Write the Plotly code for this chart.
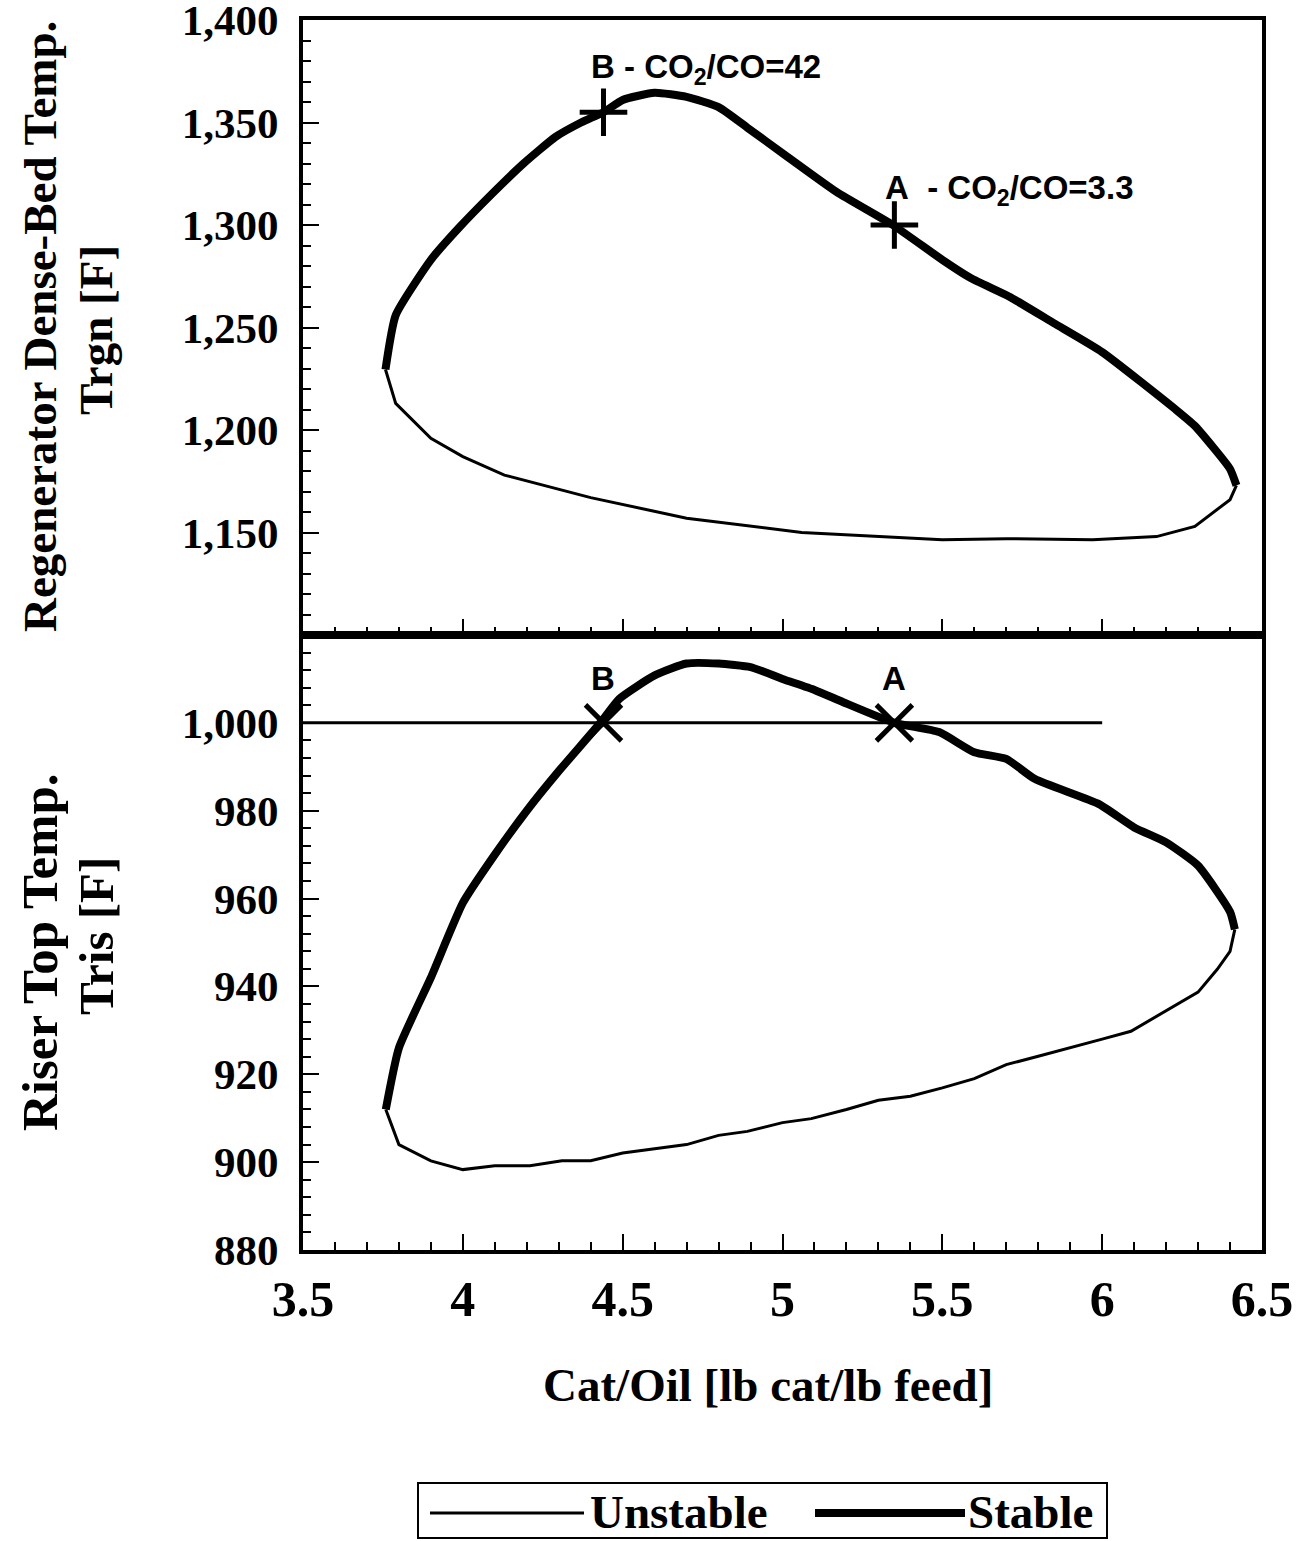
import plotly.graph_objects as go
from plotly.subplots import make_subplots

# ---------------- data ----------------
# Regenerator dense-bed temperature (top panel)
trgn_stable_x = [3.758, 3.79, 3.90, 3.99, 4.09, 4.19, 4.29, 4.37, 4.44, 4.50, 4.60, 4.70,
                 4.80, 4.89, 5.00, 5.17, 5.345, 5.50, 5.59, 5.71, 5.85, 6.00, 6.23, 6.29,
                 6.40, 6.42]
trgn_stable_y = [1229.5, 1256, 1283, 1299, 1315, 1330, 1343, 1350, 1355, 1361, 1364.5, 1362.5,
                 1357.5, 1347.5, 1335, 1316, 1300, 1283, 1274, 1265, 1252, 1238, 1210, 1202,
                 1181, 1173]
trgn_unstable_x = [3.758, 3.79, 3.90, 4.00, 4.13, 4.40, 4.70, 4.80, 5.06, 5.50, 5.70, 5.97,
                   6.17, 6.29, 6.40, 6.42]
trgn_unstable_y = [1229.5, 1213, 1196, 1187, 1178, 1167, 1157, 1155, 1150, 1146.5, 1147, 1146.5,
                   1148, 1153, 1166, 1173]

# Riser top temperature (bottom panel)
tris_stable_x = [3.759, 3.80, 3.90, 4.00, 4.10, 4.20, 4.30, 4.43, 4.49, 4.60, 4.70, 4.80,
                 4.90, 5.00, 5.10, 5.19, 5.35, 5.49, 5.60, 5.70, 5.79, 5.99, 6.10, 6.20,
                 6.30, 6.40, 6.415]
tris_stable_y = [912, 926, 942, 959, 970, 980, 989, 1000, 1005.5, 1010.8, 1013.5, 1013.5,
                 1012.7, 1010, 1007.5, 1004.7, 1000, 997.9, 993.3, 991.8, 987.2, 981.5, 976.2, 972.8,
                 967.5, 957, 953]
tris_unstable_x = [3.759, 3.80, 3.90, 4.00, 4.10, 4.21, 4.31, 4.40, 4.50, 4.60, 4.70, 4.80,
                   4.89, 5.00, 5.09, 5.20, 5.30, 5.40, 5.50, 5.60, 5.70, 5.80, 5.90, 6.00,
                   6.09, 6.20, 6.30, 6.36, 6.40, 6.415]
tris_unstable_y = [912, 904, 900.3, 898.3, 899.2, 899.2, 900.3, 900.3, 902.1, 903, 904, 906.1,
                   907, 909, 909.9, 912, 914.1, 915, 916.9, 919, 922.2, 924.1, 926, 928,
                   929.8, 934.4, 938.7, 943.9, 948, 953]

# Riser temperature set-point line
setpoint_x = [3.5, 6.0]
setpoint_y = [1000, 1000]

# Operating points A and B
point_names = ["A", "B"]
point_x = [5.35, 4.44]
point_trgn = [1300, 1355]
point_tris = [1000, 1000]
point_co2_co = ["3.3", "42"]

# axis ticks
x_ticks = [3.5, 4, 4.5, 5, 5.5, 6, 6.5]
trgn_ticks = [1150, 1200, 1250, 1300, 1350, 1400]
tris_ticks = [880, 900, 920, 940, 960, 980, 1000]

# ---------------- figure ----------------
SERIF = "Liberation Serif"
SANS = "Liberation Sans"
BLACK = "black"
THICK = 8
THIN = 3

fig = make_subplots(rows=2, cols=1, shared_xaxes=True, vertical_spacing=0)

fig.add_trace(go.Scatter(x=trgn_unstable_x, y=trgn_unstable_y, mode="lines", name="Unstable",
                         line=dict(color=BLACK, width=THIN)), row=1, col=1)
fig.add_trace(go.Scatter(x=trgn_stable_x, y=trgn_stable_y, mode="lines", name="Stable",
                         line=dict(color=BLACK, width=THICK, shape="spline", smoothing=0.5)),
              row=1, col=1)
fig.add_trace(go.Scatter(x=point_x, y=point_trgn, mode="markers", showlegend=False,
                         marker=dict(symbol="cross-thin", size=34,
                                     line=dict(color=BLACK, width=5))), row=1, col=1)

fig.add_trace(go.Scatter(x=setpoint_x, y=setpoint_y, mode="lines", showlegend=False,
                         line=dict(color=BLACK, width=THIN)), row=2, col=1)
fig.add_trace(go.Scatter(x=tris_unstable_x, y=tris_unstable_y, mode="lines", showlegend=False,
                         line=dict(color=BLACK, width=THIN)), row=2, col=1)
fig.add_trace(go.Scatter(x=tris_stable_x, y=tris_stable_y, mode="lines", showlegend=False,
                         line=dict(color=BLACK, width=THICK, shape="spline", smoothing=0.5)),
              row=2, col=1)
fig.add_trace(go.Scatter(x=point_x, y=point_tris, mode="markers", showlegend=False,
                         marker=dict(symbol="x-thin", size=36,
                                     line=dict(color=BLACK, width=5))), row=2, col=1)

tickfont_y = dict(family=SERIF, size=43, color=BLACK, weight="bold")
tickfont_x = dict(family=SERIF, size=50, color=BLACK, weight="bold")

common_x = dict(range=[3.5, 6.5], tickvals=x_ticks, ticks="inside", ticklen=16, tickwidth=2,
                tickcolor=BLACK, showline=True, linewidth=4, linecolor=BLACK, mirror=True,
                showgrid=False, zeroline=False, ticklabeloverflow="allow", automargin=False,
                minor=dict(dtick=0.1, tick0=3.5, ticks="inside", ticklen=8, tickwidth=2,
                           tickcolor=BLACK, showgrid=False))
fig.update_xaxes(**common_x, showticklabels=False, row=1, col=1)
fig.update_xaxes(**common_x, showticklabels=True, tickfont=tickfont_x, ticklabelstandoff=2,
                 row=2, col=1)

common_y = dict(ticks="inside", ticklen=16, tickwidth=2, tickcolor=BLACK, showline=True,
                linewidth=4, linecolor=BLACK, mirror=True, showgrid=False, zeroline=False,
                tickformat=",", tickfont=tickfont_y, ticklabelstandoff=12,
                ticklabeloverflow="allow", automargin=False)
fig.update_yaxes(**common_y, range=[1100, 1400], tickvals=trgn_ticks,
                 minor=dict(dtick=10, tick0=1100, ticks="inside", ticklen=8, tickwidth=2,
                            tickcolor=BLACK, showgrid=False), row=1, col=1)
fig.update_yaxes(**common_y, range=[880, 1020], tickvals=tris_ticks,
                 minor=dict(dtick=4, tick0=880, ticks="inside", ticklen=8, tickwidth=2,
                            tickcolor=BLACK, showgrid=False), row=2, col=1)

W, H = 1300, 1541
L, R, T, B = 303, 38, 20, 291
PW, PH = W - L - R, H - T - B


def px_x(p):
    return (p - L) / PW


def px_y(p):
    return 1 - (p - T) / PH


annotations = []
title_font = dict(family=SERIF, size=47, color=BLACK, weight="bold")
# y-axis titles (two lines each)
for text, xp, yp, fs in [("Regenerator Dense-Bed Temp.", 40, 327, 47), ("Trgn [F]", 96, 330, 47),
                         ("Riser Top Temp.", 40, 952, 51), ("Tris [F]", 96, 936, 49)]:
    annotations.append(dict(text=text, xref="paper", yref="paper", x=px_x(xp), y=px_y(yp),
                            textangle=-90, showarrow=False,
                            font=dict(family=SERIF, size=fs, color=BLACK, weight="bold"),
                            xanchor="center", yanchor="middle"))
# x-axis title
annotations.append(dict(text="Cat/Oil [lb cat/lb feed]", xref="paper", yref="paper",
                        x=px_x(768), y=px_y(1385), showarrow=False, font=title_font,
                        xanchor="center", yanchor="middle"))

# point labels
label_font = dict(family=SANS, size=33, color=BLACK, weight="bold")
sep = {"A": "&nbsp;&nbsp;- ", "B": " - "}
top_offsets = {"A": (-0.035, 17), "B": (-0.045, 21)}
for n, xv, yt, yr, r in zip(point_names, point_x, point_trgn, point_tris, point_co2_co):
    dx, dy = top_offsets[n]
    annotations.append(dict(text=f"{n}{sep[n]}CO<sub>2</sub>/CO={r}", x=xv + dx, y=yt + dy,
                            xref="x", yref="y", showarrow=False, font=label_font,
                            xanchor="left", yanchor="middle"))
    annotations.append(dict(text=n, x=xv, y=yr + 10, xref="x2", yref="y2", showarrow=False,
                            font=label_font, xanchor="center", yanchor="middle"))

# legend (drawn as a boxed key below the chart)
leg_font = dict(family=SERIF, size=47, color=BLACK, weight="bold")
annotations.append(dict(text="Unstable", xref="paper", yref="paper", x=px_x(588), y=px_y(1512),
                        showarrow=False, font=leg_font, xanchor="left", yanchor="middle"))
annotations.append(dict(text="Stable", xref="paper", yref="paper", x=px_x(966), y=px_y(1512),
                        showarrow=False, font=leg_font, xanchor="left", yanchor="middle"))

shapes = [
    dict(type="rect", xref="paper", yref="paper", x0=px_x(418), x1=px_x(1107),
         y0=px_y(1538), y1=px_y(1483), line=dict(color=BLACK, width=2), fillcolor="white"),
    dict(type="line", xref="paper", yref="paper", x0=px_x(430), x1=px_x(584),
         y0=px_y(1513), y1=px_y(1513), line=dict(color=BLACK, width=THIN)),
    dict(type="line", xref="paper", yref="paper", x0=px_x(815), x1=px_x(965),
         y0=px_y(1513), y1=px_y(1513), line=dict(color=BLACK, width=THICK)),
]

fig.update_layout(width=W, height=H, margin=dict(l=L, r=R, t=T, b=B, pad=0, autoexpand=False),
                  paper_bgcolor="white", plot_bgcolor="white", showlegend=False,
                  annotations=annotations, shapes=shapes)

fig.write_html("out.html")
